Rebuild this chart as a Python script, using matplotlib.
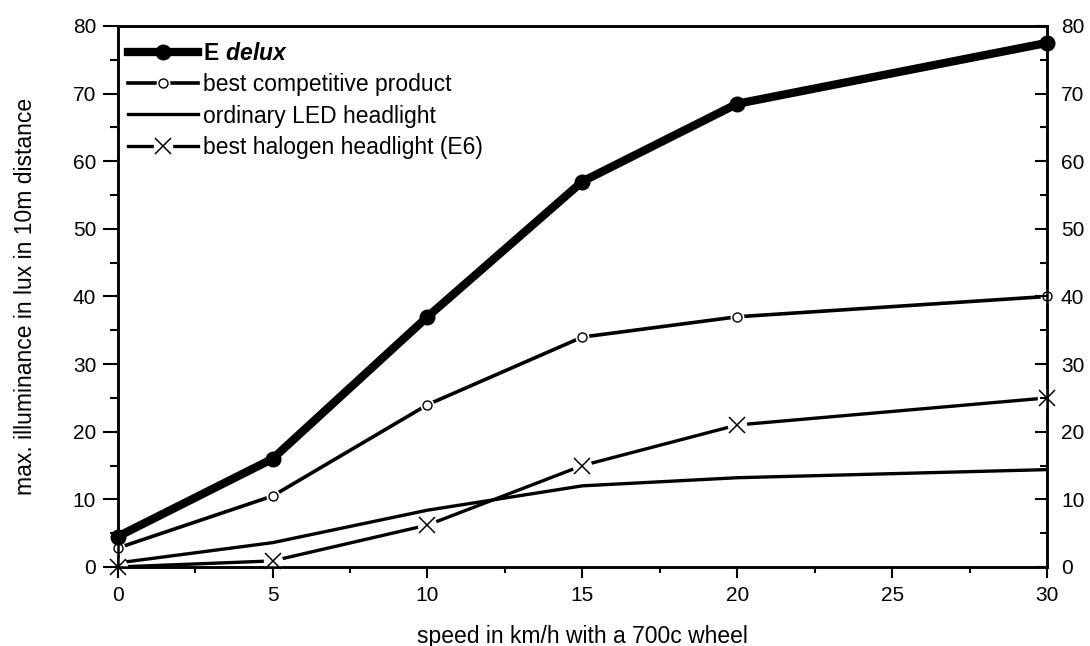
import matplotlib
matplotlib.use('Agg')
import matplotlib.pyplot as plt
from matplotlib.lines import Line2D
from matplotlib.ticker import MultipleLocator

plt.rcParams['font.family'] = ['Liberation Sans', 'DejaVu Sans']
plt.rcParams['mathtext.fontset'] = 'custom'
plt.rcParams['mathtext.rm'] = 'Liberation Sans'
plt.rcParams['mathtext.bf'] = 'Liberation Sans:weight=bold'
plt.rcParams['mathtext.bfit'] = 'Liberation Sans:italic:bold'

# speed in km/h
speed = [0, 5, 10, 15, 20, 30]
# illuminance values
e_delux = [4.5, 16, 37, 57, 68.5, 77.5]
best_competitive = [2.8, 10.5, 24, 34, 37, 40]
ordinary_led = [0.6, 3.6, 8.4, 12, 13.2, 14.4]
best_halogen = [0, 0.9, 6.2, 15, 21, 25]

tick_fs = 15
lab_fs = 16.5

fig = plt.figure(figsize=(10.9, 6.46), dpi=100)
ax = fig.add_axes([0.108, 0.1223, 0.8526, 0.8375])

l1, = ax.plot(speed, e_delux, color='black', lw=6, marker='o', ms=10.5,
              zorder=5, clip_on=False)
# competitive line, broken slightly around the open circles
ax.plot(speed, best_competitive, color='black', lw=2.6, zorder=4)
ax.plot(speed, best_competitive, ls='none', marker='o', ms=10, mfc='white', mec='none',
        zorder=4.1, clip_on=False)
ax.plot(speed, best_competitive, ls='none', marker='o', ms=6.5, mfc='white', mec='black',
        mew=1, zorder=4.2, clip_on=False)
h2 = (Line2D([], [], color='black', lw=2.6, marker='o', ms=10, mfc='white', mec='none'),
      Line2D([], [], ls='none', marker='o', ms=6.5, mfc='white', mec='black', mew=1))
l3, = ax.plot(speed, ordinary_led, color='black', lw=2.4, zorder=3)
# halogen line is broken around each x marker
ax.plot(speed, best_halogen, color='black', lw=2.4, zorder=3)
ax.plot(speed, best_halogen, ls='none', marker='o', ms=14, mfc='white', mec='none', zorder=3.5)
ax.plot(speed, best_halogen, ls='none', marker='x', ms=11, mec='black', mew=1.1, zorder=3.6,
        clip_on=False)
h4 = (Line2D([], [], color='black', lw=2.4, marker='o', ms=14, mfc='white', mec='none'),
      Line2D([], [], ls='none', marker='x', ms=11, mec='black', mew=1.1))

ax.set_xlim(0, 30)
ax.set_ylim(0, 80)
ax.xaxis.set_major_locator(MultipleLocator(5))
ax.xaxis.set_minor_locator(MultipleLocator(2.5))
ax.yaxis.set_major_locator(MultipleLocator(10))
ax.yaxis.set_minor_locator(MultipleLocator(5))
ax.tick_params(axis='y', which='major', length=10.5, width=1.5, labelsize=tick_fs,
               direction='out', pad=5)
ax.tick_params(axis='y', which='minor', length=6, width=1.5, direction='out')
ax.tick_params(axis='x', which='major', length=8, width=1.5, labelsize=tick_fs,
               direction='out', pad=6)
ax.tick_params(axis='x', which='minor', length=4.5, width=1.5, direction='out')
ax.tick_params(axis='x', which='both', top=False)
for s in ax.spines.values():
    s.set_linewidth(1.8)

ax2 = ax.twinx()
ax2.set_ylim(0, 80)
ax2.yaxis.set_major_locator(MultipleLocator(10))
ax2.yaxis.set_minor_locator(MultipleLocator(5))
ax2.tick_params(which='major', length=9, width=1.5, labelsize=tick_fs, direction='in', pad=10)
ax2.tick_params(which='minor', length=5, width=1.5, direction='in')
for s in ax2.spines.values():
    s.set_linewidth(1.8)

ax.set_xlabel('speed in km/h with a 700c wheel', fontsize=lab_fs)
ax.set_ylabel('max. illuminance in lux in 10m distance', fontsize=lab_fs)
ax.xaxis.set_label_coords(0.5, -0.107)
ax.yaxis.set_label_coords(-0.087, 0.5)

leg = ax.legend([l1, h2, l3, h4],
                [r'$\mathbf{E}\ \mathbfit{delux}$', 'best competitive product',
                 'ordinary LED headlight', 'best halogen headlight (E6)'],
                loc='upper left', bbox_to_anchor=(0.0108, 0.9695), frameon=False,
                fontsize=lab_fs, handlelength=3.05, handletextpad=0.22,
                labelspacing=0.35, borderaxespad=0, borderpad=0)

fig.savefig('out.png', dpi=100)
